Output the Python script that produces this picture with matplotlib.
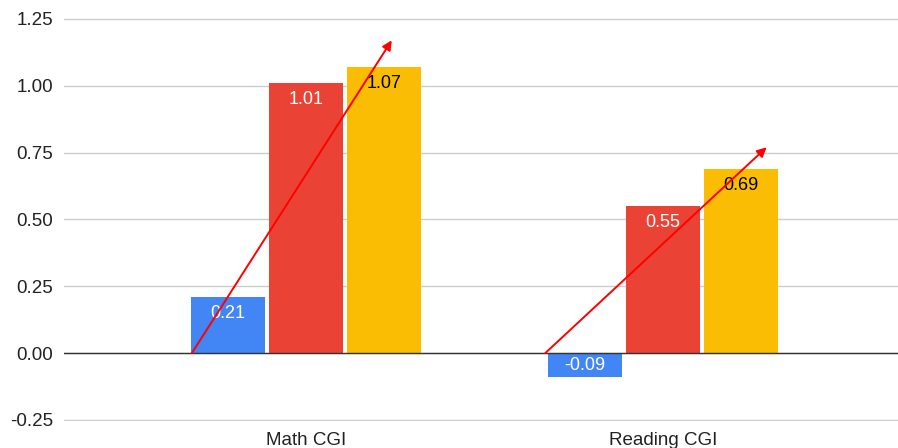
import matplotlib.pyplot as plt
import numpy as np

categories = ["Math CGI", "Reading CGI"]
series_a = [0.21, -0.09]
series_b = [1.01, 0.55]
series_c = [1.07, 0.69]
y_ticks = [-0.25, 0.0, 0.25, 0.5, 0.75, 1.0, 1.25]

# trend arrows per group: (x offset from group centre, y) start and end
arrow_starts = [(-0.32, 0.0), (-0.33, 0.0)]
arrow_ends = [(0.24, 1.17), (0.29, 0.77)]

colors = ["#4285F4", "#EA4335", "#FBBC04"]
label_colors = ["white", "white", "black"]

plt.rcParams["font.family"] = ["Liberation Sans", "DejaVu Sans"]

fig = plt.figure(figsize=(8.98, 4.48), dpi=100)
ax = fig.add_axes([64 / 898, 26.7 / 448, 1 - 64 / 898, 403.7 / 448])

x = np.arange(len(categories))
width = 0.207
step = 0.218

for i, vals in enumerate([series_a, series_b, series_c]):
    pos = x + (i - 1) * step
    ax.bar(pos, vals, width=width, color=colors[i], zorder=3)
    for px, v in zip(pos, vals):
        ty = v - 0.063 if v > 0 else v / 2
        ax.text(px, ty, f"{v:.2f}", ha="center", va="center",
                color=label_colors[i], fontsize=13, zorder=4)

for xc, (s, e) in zip(x, zip(arrow_starts, arrow_ends)):
    ax.annotate("", xy=(xc + e[0], e[1]), xytext=(xc + s[0], s[1]),
                arrowprops=dict(arrowstyle="-|>", color="red", lw=1.4,
                                mutation_scale=14, shrinkA=0, shrinkB=0),
                zorder=5)

ax.set_xlim(-0.678, 1.658)
ax.set_ylim(-0.255, 1.255)
ax.set_yticks(y_ticks)
ax.set_yticklabels([f"{t:.2f}" for t in y_ticks])
ax.set_xticks(x)
ax.set_xticklabels(categories)
ax.tick_params(axis="both", length=0, labelsize=13.5, colors="#222222")
ax.tick_params(axis="x", pad=8)
ax.tick_params(axis="y", pad=8)

ax.grid(axis="y", color="#cccccc", lw=1, zorder=0)
ax.axhline(0, color="#333333", lw=1, zorder=4)
for sp in ax.spines.values():
    sp.set_visible(False)

fig.savefig("out.png", dpi=100)
